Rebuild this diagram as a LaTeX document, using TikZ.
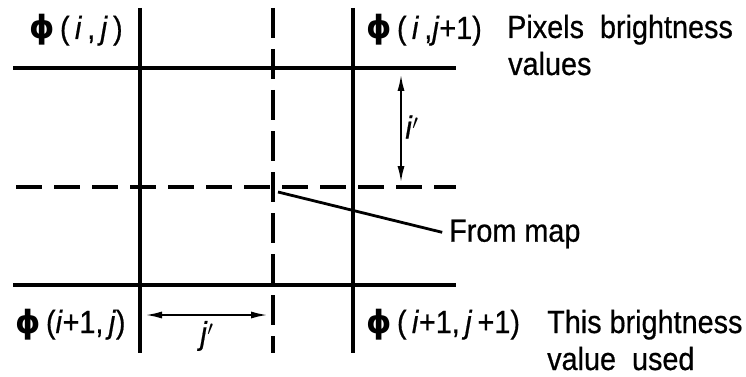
\documentclass[tikz,border=0pt]{standalone}
\usepackage{amsmath,amssymb}
\usepackage{fontspec}
\setmainfont{Liberation Sans}[FakeStretch=0.9, FakeBold=0.6]
\newfontfamily\phifont{DejaVu Sans}
\usetikzlibrary{arrows.meta,positioning}
\newcommand{\brt}{{\phifont\bfseries ϕ}}

\begin{document}
\begin{tikzpicture}[
  x=1pt, y=-1pt,
  gridline/.style={line width=3.5pt},
  gridcut/.style={line width=3.5pt, dash pattern=on 30pt off 11pt},
  gridcuth/.style={line width=3.5pt, dash pattern=on 26pt off 12pt},
  dimarr/.style={{Latex[length=18pt,width=7pt]}-{Latex[length=18pt,width=7pt]}, line width=2.5pt},
  lead/.style={line width=2.8pt},
  lbl/.style={inner sep=0pt, anchor=base west, font=\fontsize{32}{36}\selectfont}
]
  \useasboundingbox (0,0) rectangle (746,377);

  %% Grid end points
  \coordinate (v1t) at (140,8);   \coordinate (v1b) at (140,353);
  \coordinate (vmt) at (273,8);   \coordinate (vmb) at (273,353);
  \coordinate (v2t) at (353,8);   \coordinate (v2b) at (353,353);
  \coordinate (h1l) at (13,68);   \coordinate (h1r) at (456,68);
  \coordinate (hml) at (16,187);  \coordinate (hmr) at (456,187);
  \coordinate (h2l) at (13,285);  \coordinate (h2r) at (456,285);

  %% Pixel grid
  \draw[gridline] (v1t) -- (v1b);
  \draw[gridline] (v2t) -- (v2b);
  \draw[gridline] (h1l) -- (h1r);
  \draw[gridline] (h2l) -- (h2r);
  \draw[gridcut] (vmt) -- (vmb);
  \draw[gridcuth] (hml) -- (hmr);

  %% Brightness values
  \node[lbl] (pa) at (29,39) {\brt\,(\,\textit{i}\,,\,\textit{j}\,)};
  \node[lbl] (pb) at (366,39) {\brt\,(\,\textit{i}\,,\textit{j}+1)};
  \node[lbl] (pc) at (15,333) {\brt\,(\textit{i}+1,\,\textit{j})};
  \node[lbl] (pd) at (366,333) {\brt\,(\,\textit{i}+1,\,\textit{j}\,+1)};

  %% Notes
  \node[lbl] (pix) at (507,38) {Pixels\enspace brightness};
  \node[lbl] (val) at (508,75) {values};
  \node[lbl] (this) at (547,333) {This brightness};
  \node[lbl] (used) at (547,370) {value\enspace used};
  \node[lbl, anchor=west] (frommap) at (449,234) {From map};

  %% Offsets
  \coordinate (it) at (401,73);   \coordinate (ib) at (401,184);
  \coordinate (jl) at (144,315);  \coordinate (jr) at (269,315);
  \draw[dimarr] (it) -- (ib);
  \draw[dimarr] (jl) -- (jr);
  \node[font=\fontsize{32}{36}\selectfont, inner sep=0pt] (ioff) at (412,127) {\textit{i}$'$};
  \node[font=\fontsize{32}{36}\selectfont, inner sep=0pt] (joff) at (207,336) {\textit{j}$'$};

  %% Mapped point
  \coordinate (hit) at (278,192);
  \draw[lead, shorten >=7pt] (hit) -- (frommap.west);
\end{tikzpicture}
\end{document}
